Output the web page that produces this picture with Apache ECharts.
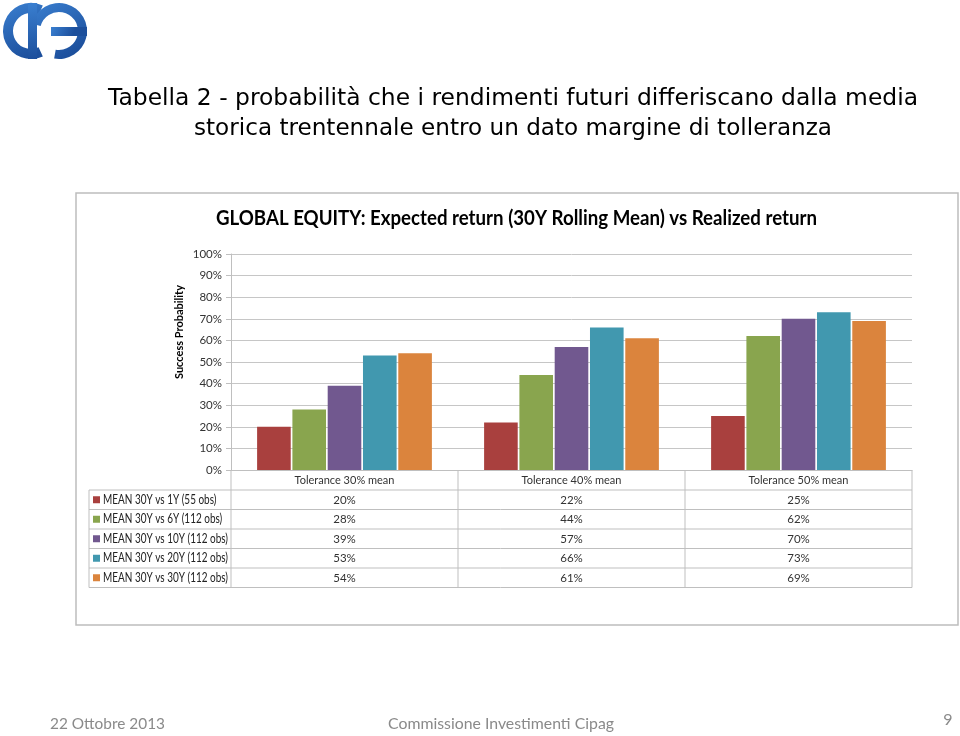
<!DOCTYPE html>
<html>
<head>
<meta charset="utf-8">
<script src="https://cdn.jsdelivr.net/npm/echarts@6/dist/echarts.min.js"></script>
<style>
html,body{margin:0;padding:0;background:#fff;}
#main{width:960px;height:736px;}
</style>
</head>
<body>
<div id="main"></div>
<script>
var categories = ['Tolerance 30% mean', 'Tolerance 40% mean', 'Tolerance 50% mean'];
var seriesNames = ['MEAN 30Y vs 1Y (55 obs)', 'MEAN 30Y vs 6Y (112 obs)', 'MEAN 30Y vs 10Y (112 obs)', 'MEAN 30Y vs 20Y (112 obs)', 'MEAN 30Y vs 30Y (112 obs)'];
var s1Y = [20, 22, 25];
var s6Y = [28, 44, 62];
var s10Y = [39, 57, 70];
var s20Y = [53, 66, 73];
var s30Y = [54, 61, 69];
var colors = ['#A9403E', '#89A54E', '#71588F', '#4198AF', '#DB843D'];
var allSeries = [s1Y, s6Y, s10Y, s20Y, s30Y];

var FONT = "Lato, 'Open Sans', sans-serif";
var chart = echarts.init(document.getElementById('main'));

var mctx = document.createElement('canvas').getContext('2d');
function measure(text, font) { mctx.font = font; return mctx.measureText(text).width; }
function fitText(text, font, cx, cy, targetW, fill, align) {
  var w = measure(text, font);
  var s = targetW / w;
  return {type: 'text', x: cx, y: cy, scaleX: s, scaleY: 1,
    style: {text: text, fill: fill, font: font, textAlign: align || 'center', textVerticalAlign: 'middle'}};
}

var G_LEFT = 231, G_RIGHT = 912, G_TOP = 254, G_BOTTOM = 470;
var ROW_H = 19.5, HEAD_H = 20;

var xAxes = [{
  type: 'category', data: categories, gridIndex: 0, position: 'bottom',
  axisLine: {show: true, lineStyle: {color: '#bfbfbf', width: 1}},
  axisTick: {show: false},
  axisLabel: {color: '#333', fontFamily: FONT, fontSize: 11, margin: 5}
}];
allSeries.forEach(function (arr, k) {
  xAxes.push({
    type: 'category', gridIndex: 0, position: 'bottom',
    offset: HEAD_H + ROW_H * k - 1,
    data: arr.map(function (v) { return v + '%'; }),
    axisLine: {show: false}, axisTick: {show: false}, splitLine: {show: false},
    axisLabel: {color: '#333', fontFamily: FONT, fontSize: 11.5, margin: 5}
  });
});

var series = allSeries.map(function (arr, k) {
  return {
    name: seriesNames[k], type: 'bar', xAxisIndex: 0, data: arr,
    barGap: '5%', barCategoryGap: '23%',
    itemStyle: {color: colors[k]}
  };
});

var graphics = [];
graphics.push({type: 'rect', shape: {x: 76, y: 193, width: 882, height: 432},
  style: {fill: 'none', stroke: '#bdbdbd', lineWidth: 1.5}, z: -1});
var lc = '#bfbfbf';
function line(x1, y1, x2, y2) {
  graphics.push({type: 'line', shape: {x1: x1, y1: y1, x2: x2, y2: y2},
    style: {stroke: lc, lineWidth: 1}, z: 5});
}
var tableBottom = G_BOTTOM + HEAD_H + ROW_H * 5;
line(G_LEFT, G_BOTTOM + HEAD_H, G_RIGHT, G_BOTTOM + HEAD_H);
line(89, G_BOTTOM + HEAD_H, G_LEFT, G_BOTTOM + HEAD_H);
for (var r = 1; r <= 5; r++) {
  var yy = G_BOTTOM + HEAD_H + ROW_H * r;
  line(89, yy, G_RIGHT, yy);
}
line(89, G_BOTTOM + HEAD_H, 89, tableBottom);
var colW = (G_RIGHT - G_LEFT) / categories.length;
for (var c = 0; c <= categories.length; c++) {
  line(G_LEFT + colW * c, G_BOTTOM, G_LEFT + colW * c, tableBottom);
}
// row labels (scaled to Calibri-like width)
var labFont = '13px ' + FONT;
var labScale = 125 / measure(seriesNames[2], labFont);
seriesNames.forEach(function (nm, k) {
  var cy = G_BOTTOM + HEAD_H + ROW_H * k + ROW_H / 2;
  graphics.push({type: 'rect', shape: {x: 93, y: cy - 3.5, width: 7, height: 7}, style: {fill: colors[k]}});
  graphics.push({type: 'text', x: 103, y: cy, scaleX: labScale,
    style: {text: nm, fill: '#222', font: labFont, textAlign: 'left', textVerticalAlign: 'middle'}});
});
// y axis name
graphics.push({type: 'text', x: 179, y: 332, rotation: Math.PI / 2,
  style: {text: 'Success Probability', fill: '#000', font: 'bold 11px ' + FONT, textAlign: 'center', textVerticalAlign: 'middle'}});
// titles
graphics.push(fitText('Tabella 2 - probabilità che i rendimenti futuri differiscano dalla media', "23px 'DejaVu Sans'", 513, 99, 810, '#000'));
graphics.push(fitText('storica trentennale entro un dato margine di tolleranza', "23px 'DejaVu Sans'", 513, 129, 638, '#000'));
graphics.push(fitText('GLOBAL EQUITY: Expected return (30Y Rolling Mean) vs Realized return', 'bold 21px ' + FONT, 516.5, 218, 601, '#000'));
// footer
graphics.push(fitText('22 Ottobre 2013', '16px ' + FONT, 50, 724, 115, '#8a8a8a', 'left'));
graphics.push(fitText('Commissione Investimenti Cipag', '16px ' + FONT, 501, 724, 226, '#8a8a8a'));
graphics.push({type: 'text', x: 948, y: 720, style: {text: '9', fill: '#8a8a8a', font: '16px ' + FONT, textAlign: 'center', textVerticalAlign: 'middle'}});
// logo
var logoFill = new echarts.graphic.LinearGradient(0, 0, 0.6, 1, [{offset: 0, color: '#3a7fd0'}, {offset: 1, color: '#1c4f9c'}]);
var d = Math.PI / 180;
graphics.push({type: 'sector', shape: {cx: 31, cy: 31, r: 28, r0: 18, startAngle: 65 * d, endAngle: 295 * d}, style: {fill: logoFill}});
graphics.push({type: 'sector', shape: {cx: 59, cy: 31, r: 28, r0: 19, startAngle: 195 * d, endAngle: 460 * d}, style: {fill: logoFill}});
graphics.push({type: 'rect', shape: {x: 28, y: 3, width: 9, height: 56}, style: {fill: logoFill}});
graphics.push({type: 'rect', shape: {x: 51, y: 27, width: 36, height: 9}, style: {fill: logoFill}});

var option = {
  backgroundColor: '#fff',
  animation: false,
  color: colors,
  grid: {left: G_LEFT, right: 960 - G_RIGHT, top: G_TOP, bottom: 736 - G_BOTTOM, containLabel: false},
  xAxis: xAxes,
  yAxis: {
    type: 'value', min: 0, max: 100, interval: 10,
    axisLine: {show: true, lineStyle: {color: '#bfbfbf'}},
    axisTick: {show: true, length: 5, lineStyle: {color: '#bfbfbf'}},
    splitLine: {lineStyle: {color: '#c6c6c6', width: 1}},
    axisLabel: {formatter: '{value}%', color: '#333', fontFamily: FONT, fontSize: 11.5, margin: 9}
  },
  series: series,
  graphic: graphics
};
chart.setOption(option);
</script>
</body>
</html>
